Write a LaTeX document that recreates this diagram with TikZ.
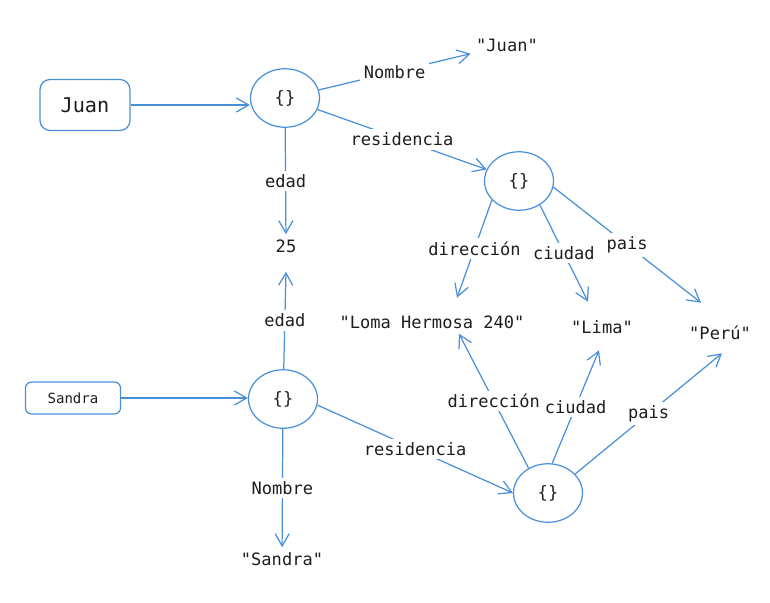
\documentclass[tikz,border=0pt]{standalone}
\usepackage{fontspec}
\setmonofont{DejaVu Sans Mono}
\usepackage{tikz}
\usetikzlibrary{shapes.geometric,arrows.meta,calc}
\definecolor{lnBlue}{RGB}{74,144,217}
\definecolor{txGray}{RGB}{30,30,30}
\tikzstyle{tsMono} = [
    text=txGray,
    font=\ttfamily\fontsize{9.7}{11}\selectfont
]
\tikzstyle{tsObject} = [
    ellipse,
    tsMono,
    draw=lnBlue,
    line width=0.7pt,
    minimum width=1.38cm,
    minimum height=1.17cm,
    inner sep=0pt]
\tikzstyle{tsValue} = [
    tsMono,
    inner sep=3pt,
    text height=7pt,
    text depth=0pt]
\tikzstyle{tsLabel} = [
    tsMono,
    fill=white,
    inner sep=2pt]
\tikzstyle{tsBox} = [
    rectangle,
    draw=lnBlue,
    line width=0.7pt,
    text=txGray]
\tikzstyle{tsArrow} = [
    draw=lnBlue,
    line width=0.7pt,
    -{Straight Barb[length=7pt,width=8pt]}]

\begin{document}
\begin{tikzpicture}[x=0.02cm, y=-0.02cm]

        \useasboundingbox (0,0) rectangle (770,602);

        % names and objects
        \node[  tsBox,
                rounded corners=0.2cm,
                minimum width=1.8cm,
                minimum height=1.02cm,
                font=\ttfamily\fontsize{11.5}{13}\selectfont] (juan) at (85,105) {Juan};
        \node[  tsBox,
                rounded corners=0.12cm,
                minimum width=1.9cm,
                minimum height=0.64cm,
                font=\ttfamily\fontsize{8}{10}\selectfont] (sandra) at (73,398) {Sandra};

        \node[tsObject] (c1) at (285,98) {\{\}};
        \node[tsObject] (c2) at (519,181) {\{\}};
        \node[tsObject] (c3) at (283,399) {\{\}};
        \node[tsObject] (c4) at (548,493) {\{\}};

        % values
        \node[tsValue] (valJuan) at (507,45) {"Juan"};
        \node[tsValue] (v25) at (286,246) {25};
        \node[tsValue] (valSandra) at (282,559) {"Sandra"};
        \node[tsValue] (loma) at (432,322) {"Loma Hermosa 240"};
        \node[tsValue] (lima) at (602,327) {"Lima"};
        \node[tsValue] (peru) at (720,333) {"Perú"};

        % Juan
        \draw[tsArrow] (juan.east) -- (juan.east -| c1.west);
        \draw[tsArrow] (c1) -- node[tsLabel] {Nombre} (valJuan);
        \draw[tsArrow] (c1) -- node[tsLabel] {residencia} (c2);
        \draw[tsArrow] (c1) -- node[tsLabel] {edad} (v25);

        \draw[tsArrow] (c2.215) -- node[tsLabel] {dirección} ([shift={(0.5cm,0.25cm)}]loma.north);
        \draw[tsArrow] (c2.-49) -- node[tsLabel] {ciudad} ([shift={(-0.28cm,0.27cm)}]lima.north);
        \draw[tsArrow] (c2.-10) -- node[tsLabel] {pais} ([shift={(-0.38cm,0.37cm)}]peru.north);

        % Sandra
        \draw[tsArrow] (sandra.east) -- (sandra.east -| c3.west);
        \draw[tsArrow] (c3) -- node[tsLabel] {edad} ([yshift=-0.28cm]v25.south);
        \draw[tsArrow] (c3) -- node[tsLabel] {Nombre} (valSandra);
        \draw[tsArrow] (c3.-10) -- node[tsLabel] {residencia} (c4.west);

        \draw[tsArrow] (c4.128) -- node[tsLabel] {dirección} ([xshift=0.54cm]loma.south);
        \draw[tsArrow] (c4.82) -- node[tsLabel] {ciudad} ([shift={(-0.06cm,-0.23cm)}]lima.south);
        \draw[tsArrow] (c4.35) -- node[tsLabel] {pais} ([shift={(0.04cm,-0.17cm)}]peru.south);

\end{tikzpicture}
\end{document}
